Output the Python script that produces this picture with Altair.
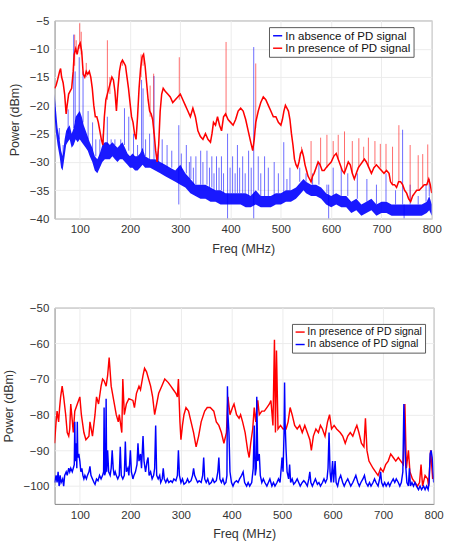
import altair as alt
import pandas as pd

ABS = "In absence of PD signal"
PRE = "In presence of PD signal"

# ---------------- top panel data ----------------
top_red = [[50,-17],[53,-16.5],[56,-15.5],[60,-14],[62,-13.5],[64,-15],[67,-16],[70,-18],[73,-21.5],[75,-20],
    [78,-18],[81,-17.5],[84,-17],[87,-14],[89,-11],[92,-10],[95,-11],[98,-9.5],[101,-9],[104,-10.5],
    [107,-14.5],[110,-15],[113,-14],[116,-14.5],[119,-14],[122,-15],[125,-17],[128,-20],[131,-22],[134,-22],
    [137,-23],[140,-24.5],[143,-26],[146,-27],[149,-22],[152,-19],[155,-18],[158,-17],[161,-16],[164,-15],
    [167,-15.5],[170,-17.5],[173,-21],[176,-17],[179,-14],[182,-12.5],[185,-12],[188,-12.5],[191,-13],[194,-15],
    [197,-17],[200,-19.5],[203,-22],[206,-23],[209,-25],[212,-26],[215,-22],[218,-17],[221,-13.5],[224,-11.5],
    [227,-11],[230,-13],[233,-16],[236,-19],[239,-21],[242,-21.5],[245,-22.5],[248,-25],[251,-28],[254,-30],
    [257,-27],[260,-21],[263,-18],[266,-17],[270,-17.5],[275,-18],[280,-18.5],[285,-19.5],[290,-19],[295,-18.5],
    [300,-18],[305,-19],[310,-20],[315,-21],[320,-22],[325,-20.5],[330,-22],[335,-24.5],[340,-25.5],[345,-26],
    [350,-25],[355,-26],[360,-26.5],[363,-25],[366,-23],[370,-23.5],[374,-22],[378,-23.5],[382,-24.5],[386,-22],
    [390,-21.5],[395,-22.5],[400,-23],[405,-23.5],[410,-22.5],[415,-21],[420,-20.5],[425,-21],[430,-22.5],[435,-24.5],
    [440,-26.5],[444,-28],[447,-26],[450,-23],[455,-21],[460,-19.5],[465,-18.5],[470,-19],[475,-20],[480,-21],
    [485,-22],[490,-22],[495,-23],[500,-23.5],[503,-22.5],[506,-21],[509,-20],[512,-20.5],[515,-21],[518,-22.5],
    [521,-25],[524,-27],[527,-29.5],[530,-30.5],[533,-31],[536,-30],[539,-28.5],[542,-28],[545,-29],[548,-30.5],
    [551,-31.5],[554,-32.5],[557,-33],[560,-33.5],[563,-32.5],[566,-32],[570,-31],[574,-30],[578,-30.5],[582,-31.5],
    [586,-31.5],[590,-31],[595,-30.5],[600,-30],[605,-29],[610,-28.5],[614,-29.5],[618,-30.5],[622,-31.5],[626,-32],
    [630,-31],[634,-30],[638,-30.5],[642,-32],[646,-33],[650,-32],[654,-31],[658,-30.5],[662,-30],[666,-29.5],
    [670,-30],[675,-31],[680,-32],[685,-31],[690,-30.5],[695,-31],[700,-31.5],[705,-32],[710,-31.5],[715,-32],
    [718,-33.5],[722,-34],[726,-34],[730,-34.5],[734,-33.5],[738,-33.5],[742,-34],[746,-35],[750,-35.5],[754,-36.5],
    [758,-37],[762,-36],[766,-35.5],[770,-35],[775,-35],[780,-34.5],[785,-34],[790,-34],[794,-33],[797,-34],[800,-35.5]]

# red spikes: [freq, base, peak]
top_red_spikes = [[90,-13,-7.5],[93,-11,-8.5],[100,-10,-5.5],[103,-11,-7],[113,-15,-12.5],[155,-19,-8.5],
    [160,-18,-15],[185,-13,-12],[222,-15,-11],[226,-13,-11],[240,-22,-16.5],[247,-25,-14.4],[298,-19,-11.5],
    [391,-22,-8.8],[450,-24,-12.6],[541,-28.5,-27.3],[560,-33.5,-26.3],[579,-30.5,-25.7],[591.5,-31,-25.2],
    [604,-29,-26.3],[614,-29.5,-25.2],[626.5,-32,-24.6],[642,-32,-26.3],[655,-31,-25.8],[664.6,-29.5,-27.3],
    [674,-31,-25.7],[687,-30.5,-26.3],[697.7,-31,-26.8],[709,-31.5,-26.8],[722,-34,-27.3],[734.6,-33.5,-23.5],
    [757,-37,-27],[773,-35,-28.8],[782,-34.5,-28.6],[792,-34,-26.9]]

# blue noise band: [freq, lower, upper]
top_blue_band = [[50,-22,-18],[53,-25,-21],[56,-27,-24],[60,-29,-26],[63,-31,-28],[66,-31.5,-29],[70,-29,-26],
    [73,-27,-24.5],[76,-26.5,-24],[80,-26,-23.5],[84,-27.5,-25],[88,-27,-24],[92,-26,-22],[96,-26.5,-21.5],
    [100,-26,-21],[104,-26.5,-22],[108,-27,-23.5],[112,-27.5,-24.5],[116,-28,-25.5],[120,-29,-26.5],[125,-30,-27.5],
    [130,-31.5,-29],[135,-32,-29.5],[140,-31,-28.5],[145,-30,-27],[150,-29.5,-26.5],[155,-29.5,-26.5],[160,-29.5,-27],
    [165,-29,-26.5],[170,-29.5,-27],[175,-30,-27.5],[180,-29.5,-27],[185,-29.5,-26.5],[190,-30,-27.5],[195,-30.5,-28.5],
    [200,-31,-29],[205,-31,-28.5],[210,-31.5,-29],[215,-31.5,-29],[220,-31,-28.5],[225,-30.5,-27.5],[230,-31,-29],
    [240,-31,-29.5],[250,-31.5,-29.5],[260,-32,-30],[270,-32.5,-30.5],[280,-33,-31],[290,-33.5,-31.5],[300,-34,-30.5],
    [310,-34.5,-32],[320,-35.5,-33],[330,-36,-34],[340,-36.5,-34],[350,-36.5,-34],[360,-37,-34.5],[370,-37,-35],
    [380,-37.5,-35],[390,-37.5,-35.5],[400,-37.5,-35.5],[410,-37.5,-35.5],[420,-37.5,-35.5],[430,-38,-35.5],
    [440,-38,-36],[450,-37.5,-35],[460,-38,-36],[470,-38,-36],[480,-38,-36],[490,-37.5,-35.5],[500,-37.5,-35.5],
    [510,-37,-35],[520,-37,-35],[530,-36.5,-34.5],[540,-35.5,-33.5],[545,-35,-33],[550,-35.5,-33.5],[560,-36,-34],
    [570,-36,-34],[580,-36.5,-34.5],[590,-37.5,-35.5],[600,-38,-36],[610,-37.5,-35.5],[620,-38,-36],[630,-38,-36],
    [640,-39,-37],[650,-38.5,-36.5],[660,-39.5,-37.5],[670,-39,-37],[680,-38.5,-36.5],[690,-39.5,-37.5],[700,-39,-37],
    [710,-39,-37],[720,-39.5,-37.5],[730,-39.5,-37.5],[740,-39.5,-37.5],[750,-39.5,-37.5],[760,-39.5,-37.5],
    [770,-39.5,-37.5],[780,-39.5,-37.5],[790,-39,-37],[795,-38.5,-36],[800,-39.5,-37.5]]

# blue spikes: [freq, low end, high end]
top_blue_spikes = [[59.5,-26,-24],[67,-29,-27],[77,-25,-20.7],[88,-24,-7.5],[91,-23,-14],[99,-22,-11.5],
    [106.6,-23,-14],[116.7,-26,-21],[125.6,-28,-23],[132,-29,-26],[140,-29,-26],[146.6,-27,-25],[154.9,-27,-22],
    [162.5,-27,-26],[170,-27,-26],[181.6,-27,-26],[189,-27,-20.5],[197.5,-28,-22],[207,-29,-25],[215,-29,-27],
    [223,-28,-15.5],[226,-28,-17],[231,-29,-26],[239,-29.5,-25],[247.7,-29.5,-14.8],[256.6,-30,-28],[264,-30.5,-26],
    [273.7,-31,-27],[283,-31,-28],[297,-37.5,-23.5],[302,-31.5,-28.5],[312,-32,-27],[318,-33,-30],[321,-33,-29],
    [326,-34,-31],[331,-34,-29],[340.5,-34,-28],[345,-34,-30],[353,-34,-28],[358,-34.5,-31],[362.7,-34.5,-29],
    [367,-35,-32],[372,-35,-29],[377,-35,-31],[381.8,-35,-29],[386,-35.5,-32],[394,-40,-25],[399,-35.5,-31],
    [404,-35.5,-29],[409,-35.5,-32],[413.6,-35.5,-27],[418,-35.5,-31],[424,-35.5,-29],[429,-35.5,-32],
    [435.8,-36,-28],[441,-36,-31],[446,-40,-9.7],[455,-35,-29],[460,-36,-32],[467.6,-36,-29],[475,-36,-31],
    [486.7,-36,-30],[495,-35.5,-32],[505.7,-35.5,-26.5],[512,-35,-33],[518,-35,-31],[537.5,-33.5,-31],
    [550,-33.5,-32],[563,-34,-32],[575.6,-34,-30],[591.5,-35.5,-34],[595,-40,-34],[604,-36,-31],[620,-36,-31],
    [633,-36,-32],[652,-36.5,-32],[671,-37,-33],[690,-37.5,-34],[709,-37,-32],[728,-37.5,-35],[742,-37.5,-24.3],
    [745,-40,-37.5],[757,-37.5,-34],[773,-37.5,-36],[788.6,-37,-34],[795,-36,-33]]

# ---------------- bottom panel data ----------------
bot_red = [[50,-88],[53,-82],[55,-79],[58,-82],[60,-78],[62,-75],[65,-72],[68,-75],[72,-80],[75,-85],[78,-86],
    [80,-84],[82,-77],[84,-80],[87,-85],[90,-79],[95,-77],[100,-75],[103,-80],[108,-85],[112,-87],[118,-86],
    [120,-82],[125,-86],[130,-80],[133,-75],[137,-77],[142,-72],[145,-70],[148,-70.5],[152,-72],[155,-69],
    [158,-64],[162,-72],[167,-76],[172,-80],[176,-82],[178,-80],[183,-85],[185,-70],[188,-80],[192,-77],
    [197,-75.5],[205,-76],[208,-78],[212,-74],[217,-72],[220,-73],[225,-69],[228,-67],[232,-68],[236,-70],
    [240,-72],[244,-75],[248,-80],[252,-77],[256,-74],[262,-72],[268,-70],[275,-71],[280,-72],[285,-73],
    [290,-74],[293,-75],[295,-70],[298,-82],[300,-87],[303,-83],[306,-80],[310,-78],[315,-79],[320,-82],
    [325,-85],[330,-89],[335,-86],[340,-82],[347,-79],[352,-78],[358,-78],[365,-79],[370,-82],[375,-83],
    [380,-85],[385,-88],[390,-85],[393,-75],[397,-80],[402,-78],[405,-77],[410,-80],[415,-81],[418,-80],
    [422,-82],[427,-85],[432,-90],[435,-92],[438,-88],[442,-84],[445,-78],[448,-82],[452,-76],[455,-80],
    [460,-79],[465,-79],[470,-78],[475,-77],[478,-76],[482,-83],[485,-59],[487,-85],[489,-62],[492,-84],
    [497,-83],[502,-84],[508,-84],[512,-82],[516,-78],[520,-80],[525,-83],[530,-84],[535,-83],[540,-85],
    [545,-83],[550,-85],[555,-87],[558,-90],[562,-86],[567,-84],[572,-85],[576,-83],[580,-84],[585,-86],
    [590,-82],[594,-80],[598,-84],[603,-83],[608,-84],[615,-85],[620,-86],[625,-88],[630,-86],[635,-85],
    [640,-86],[645,-84],[648,-83],[652,-85],[657,-88],[662,-89],[665,-81],[668,-90],[672,-93],[680,-95],
    [685,-96],[690,-97],[695,-95],[700,-96],[705,-94],[710,-93],[715,-91],[720,-92],[725,-93],[730,-92],
    [735,-93],[740,-94],[743,-77],[746,-95],[750,-90],[753,-96],[758,-98],[763,-99],[768,-100],[772,-99],
    [775,-94],[778,-100],[783,-97],[788,-98],[790,-100],[794,-90],[798,-98]]

bot_blue = [[50,-99],[53,-97],[55,-99],[57,-96],[59,-100],[61,-97],[63,-99],[66,-98],[68,-100],[70,-97],
    [73,-96],[75,-97],[78,-95],[80,-96],[82,-95],[85,-96],[87,-95],[89,-94],[90,-82],[91,-93],[93,-88],[94,-95],
    [95,-82],[96,-92],[98,-91],[100,-93],[102,-96],[104,-95],[106,-97],[108,-98],[110,-97],[113,-98],[115,-97],
    [118,-96],[120,-94.5],[122,-97],[125,-98],[128,-99],[130,-99.5],[133,-98],[136,-98.5],[139,-97],[142,-98],
    [145,-97],[147,-96],[148,-78],[149,-97],[151,-96],[152,-75.5],[153,-96],[155,-90],[157,-96],[160,-97],
    [162,-95],[164,-90],[166,-95],[168,-97],[170,-96],[172,-97],[175,-98],[178,-97],[180,-89],[182,-97],
    [185,-98],[188,-97],[190,-87.5],[192,-96],[195,-95],[197,-97],[200,-90],[202,-96],[205,-98],[207,-97],
    [210,-96],[213,-94],[215,-88],[217,-93],[220,-91],[222,-95],[224,-89],[225,-86],[227,-93],[230,-96],
    [233,-93],[235,-92],[237,-97],[240,-96],[243,-98],[246,-97],[248,-95],[250,-83],[252,-97],[255,-98],
    [258,-97],[260,-99],[263,-98],[265,-95],[267,-98],[270,-99],[273,-98],[276,-99],[280,-98.5],[283,-99],
    [286,-98],[290,-98.5],[293,-97],[295,-90],[297,-97],[300,-99],[303,-98],[306,-99.5],[310,-99],[313,-98],
    [316,-99],[320,-98.5],[323,-97],[325,-95],[327,-97],[330,-98],[333,-99],[336,-98.5],[340,-99],[343,-97],
    [345,-92],[347,-98],[350,-99],[353,-98],[356,-99.5],[360,-99],[363,-98],[366,-99],[370,-98.5],[373,-96],
    [375,-92],[377,-98],[380,-99],[383,-98],[386,-99.5],[389,-99],[391,-97],[392,-72],[393,-80],[395,-85],
    [397,-96],[400,-99],[403,-100],[406,-99],[410,-98.5],[413,-99],[416,-98],[420,-97],[423,-96],[426,-99],
    [430,-100],[433,-99],[436,-100],[440,-99],[443,-95],[445,-83],[447,-97],[449,-95],[450,-75],[452,-93],
    [455,-91],[457,-97],[460,-99],[463,-98],[466,-99],[470,-100],[473,-99],[476,-98],[480,-100],[483,-99],
    [486,-100],[490,-99],[493,-98],[496,-99],[499,-94],[500,-92],[502,-96],[504,-85],[505,-71],[506,-82],
    [508,-90],[510,-96],[513,-98],[515,-94],[517,-99],[520,-98],[523,-99.5],[526,-99],[530,-98],[533,-99],
    [536,-100],[540,-99],[543,-98.5],[546,-99],[550,-100],[553,-98],[555,-96],[557,-99],[560,-100],[563,-99],
    [566,-98],[570,-99.5],[573,-99],[576,-100],[580,-99],[583,-98],[586,-99],[589,-98],[591,-95],[593,-85],
    [595,-96],[597,-99],[600,-93],[602,-99],[605,-93],[607,-99],[610,-100],[613,-98],[616,-97],[620,-99],
    [623,-100],[626,-99],[630,-98],[633,-99],[636,-100],[640,-99],[643,-98],[646,-97],[650,-99],[653,-100],
    [656,-99],[660,-98],[663,-97],[666,-99],[670,-100],[673,-99],[676,-100],[680,-99],[683,-98],[686,-99],
    [690,-100],[693,-98],[695,-96],[697,-99],[700,-100],[703,-99],[706,-100],[710,-99],[713,-100],[716,-99],
    [720,-98],[723,-99],[726,-98],[730,-99],[733,-100],[736,-99],[739,-96],[741,-77],[743,-88],[745,-95],
    [747,-99],[750,-100],[752,-95],[754,-100],[757,-99],[760,-100],[763,-99],[766,-100],[770,-101],[773,-100],
    [776,-101],[780,-100],[783,-101],[786,-100],[789,-101],[791,-99],[793,-91],[795,-90],[797,-92],[800,-99]]

x_ticks = [100, 200, 300, 400, 500, 600, 700, 800]
x_domain = [50, 800]
top_y_ticks = [-40, -35, -30, -25, -20, -15, -10, -5]
top_y_domain = [-40, -5]
bot_y_ticks = [-100, -90, -80, -70, -60, -50]
bot_y_domain = [-105, -50]

BLUE = "#0000ff"
RED = "#ff0000"
FONT = "Liberation Sans"


def pairs(rows, series):
    return pd.DataFrame([{"f": r[0], "v": r[1], "s": series} for r in rows])


def triples(rows, series):
    return pd.DataFrame([{"f": r[0], "lo": r[1], "hi": r[2], "s": series} for r in rows])


X_SCALE = alt.Scale(domain=x_domain, nice=False, zero=False)
X_AXIS = alt.Axis(values=x_ticks, title="Freq (MHz)", grid=True, labelOverlap=False, labelFlush=False)


def xenc():
    return alt.X("f:Q", scale=X_SCALE, axis=X_AXIS)


def yenc(field, domain, ticks):
    return alt.Y(field, scale=alt.Scale(domain=domain, nice=False, zero=False),
                 axis=alt.Axis(values=ticks, title="Power (dBm)", grid=True, labelOverlap=False,
                               labelFlush=False))


def color(domain, lx, ly, fs):
    return alt.Color("s:N", scale=alt.Scale(domain=domain, range=[BLUE if d == ABS else RED for d in domain]),
                     legend=alt.Legend(orient="none", legendX=lx, legendY=ly, title=None,
                                       strokeColor="#555", fillColor="white", padding=3,
                                       labelFontSize=fs, labelFont=FONT, labelColor="#111",
                                       symbolType="stroke", symbolSize=90, symbolStrokeWidth=1.5,
                                       symbolOpacity=1, rowPadding=1, labelOffset=2,
                                       cornerRadius=0))


top_dom = [ABS, PRE]
bot_dom = [PRE, ABS]
top_col = color(top_dom, 224, 7, 12)
bot_col = color(bot_dom, 248, 17, 11)

band = alt.Chart(triples(top_blue_band, ABS)).mark_area(color=BLUE, opacity=0.9, clip=True).encode(
    x=xenc(), y=yenc("lo:Q", top_y_domain, top_y_ticks), y2="hi:Q")

bspk = alt.Chart(triples(top_blue_spikes, ABS)).mark_rule(strokeWidth=1, opacity=0.6, clip=True).encode(
    x=xenc(), y=yenc("lo:Q", top_y_domain, top_y_ticks), y2="hi:Q", color=top_col)

rline = alt.Chart(pairs(top_red, PRE)).mark_line(strokeWidth=1.6, clip=True).encode(
    x=xenc(), y=yenc("v:Q", top_y_domain, top_y_ticks), color=top_col)

rspk = alt.Chart(triples(top_red_spikes, PRE)).mark_rule(strokeWidth=1, opacity=0.6, clip=True).encode(
    x=xenc(), y=yenc("lo:Q", top_y_domain, top_y_ticks), y2="hi:Q", color=top_col)

top = alt.layer(band, bspk, rline, rspk).properties(width=394, height=207)

bred = alt.Chart(pairs(bot_red, PRE)).mark_line(strokeWidth=1.5, clip=True).encode(
    x=xenc(), y=yenc("v:Q", bot_y_domain, bot_y_ticks), color=bot_col)
bblue = alt.Chart(pairs(bot_blue, ABS)).mark_line(strokeWidth=1.5, clip=True).encode(
    x=xenc(), y=yenc("v:Q", bot_y_domain, bot_y_ticks), color=bot_col)

bottom = alt.layer(bred, bblue).properties(width=396, height=205)

chart = alt.vconcat(top, bottom, spacing=47).resolve_scale(
    color="independent").resolve_legend(color="independent").properties(
    padding={"left": 2, "top": 2, "right": 5, "bottom": 2}
).configure_view(stroke="#7f7f7f", strokeWidth=1).configure_axis(
    labelFont=FONT, titleFont=FONT, labelFontSize=12, titleFontSize=13, labelColor="#333",
    titleColor="#333", titleFontWeight="normal", gridColor="#ebebeb", gridWidth=1,
    domain=False, ticks=False, labelPadding=6, titlePadding=8
)

chart.save("out.html", embed_options={"renderer": "svg", "actions": False})
